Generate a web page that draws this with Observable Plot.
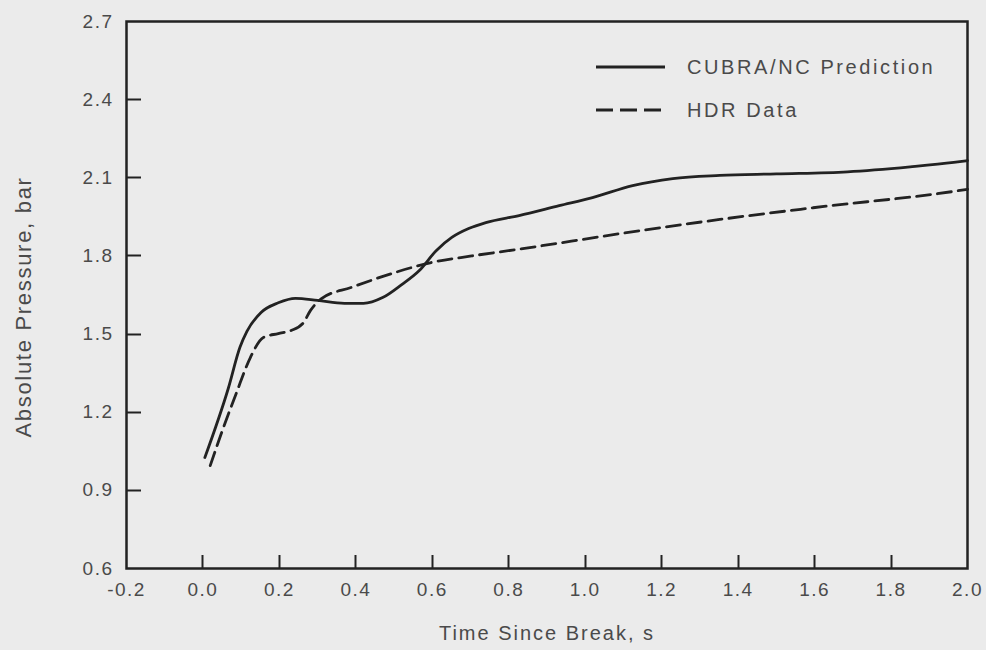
<!DOCTYPE html>
<html>
<head>
<meta charset="utf-8">
<script src="https://cdn.jsdelivr.net/npm/d3@7"></script>
<script src="https://cdn.jsdelivr.net/npm/@observablehq/plot@0.6"></script>
<style>
  body { margin: 0; background: #ebebeb; }
  #wrap { position: relative; width: 986px; height: 650px; background: #ebebeb; }
  #wrap svg { font-family: "Liberation Sans", Arial, sans-serif; }
  g[aria-label="x-axis tick label"] text, g[aria-label="y-axis tick label"] text { letter-spacing: 1.5px; }
  #overlay { position: absolute; left: 0; top: 0; pointer-events: none; }
  #overlay text { letter-spacing: 2.6px; }
</style>
</head>
<body>
<div id="wrap"></div>
<script>
// ---- data ----
const xTicks = [-0.2, 0.0, 0.2, 0.4, 0.6, 0.8, 1.0, 1.2, 1.4, 1.6, 1.8, 2.0];
const xTickLabels = ["-0.2", "0.0", "0.2", "0.4", "0.6", "0.8", "1.0", "1.2", "1.4", "1.6", "1.8", "2.0"];
const yTicks = [0.6, 0.9, 1.2, 1.5, 1.8, 2.1, 2.4, 2.7];
const yTickLabels = ["0.6", "0.9", "1.2", "1.5", "1.8", "2.1", "2.4", "2.7"];

const xTitle = "Time Since Break, s";
const yTitle = "Absolute Pressure, bar";
const seriesNames = ["CUBRA/NC Prediction", "HDR Data"];

// CUBRA/NC Prediction (solid)
const predTime = [0.005, 0.066, 0.097, 0.115, 0.152, 0.197, 0.242, 0.30, 0.37, 0.42, 0.47, 0.52, 0.566, 0.61, 0.651, 0.695, 0.74, 0.827, 0.932, 1.019, 1.124, 1.229, 1.352, 1.50, 1.686, 1.85, 1.964, 2.0];
const predPressure = [1.026, 1.29, 1.45, 1.51, 1.583, 1.62, 1.637, 1.629, 1.618, 1.618, 1.64, 1.69, 1.744, 1.82, 1.871, 1.905, 1.928, 1.955, 1.993, 2.024, 2.07, 2.097, 2.109, 2.115, 2.123, 2.142, 2.159, 2.166];

// HDR Data (dashed)
const hdrTime = [0.019, 0.048, 0.087, 0.124, 0.158, 0.197, 0.231, 0.263, 0.281, 0.31, 0.388, 0.493, 0.598, 0.703, 0.827, 1.089, 1.352, 1.596, 1.974, 2.0];
const hdrPressure = [0.995, 1.118, 1.272, 1.41, 1.487, 1.502, 1.514, 1.544, 1.59, 1.636, 1.679, 1.732, 1.775, 1.80, 1.826, 1.885, 1.94, 1.985, 2.05, 2.056];

// ---- build ----
const pred = predTime.map((t, i) => ({t, p: predPressure[i]}));
const hdr = hdrTime.map((t, i) => ({t, p: hdrPressure[i]}));

const ink = "#222222";
const textInk = "#4a4a4a";

const W = 986, H = 650, mL = 126, mR = 19, mT = 21, mB = 82;
const xTickLen = 13, yTickLen = 15;

const chart = Plot.plot({
  width: W,
  height: H,
  marginLeft: mL,
  marginRight: mR,
  marginTop: mT,
  marginBottom: mB,
  style: {background: "transparent", fontFamily: "Liberation Sans, Arial, sans-serif", color: textInk, overflow: "visible"},
  x: {domain: [xTicks[0], xTicks[xTicks.length - 1]]},
  y: {domain: [yTicks[0], yTicks[yTicks.length - 1]]},
  marks: [
    // tick labels (outside the frame)
    Plot.axisX(xTicks, {
      tickSize: 0, tickPadding: 14, fontSize: 19, fill: textInk,
      tickFormat: d => xTickLabels[xTicks.indexOf(d)], label: null
    }),
    Plot.axisY(yTicks, {
      tickSize: 0, tickPadding: 13, fontSize: 19, fill: textInk,
      tickFormat: d => yTickLabels[yTicks.indexOf(d)], label: null
    }),
    // axis titles
    Plot.text([xTitle], {frameAnchor: "bottom", dy: 71, fontSize: 20, fill: textInk, textAnchor: "middle"}),
    Plot.text([yTitle], {frameAnchor: "left", dx: -103, dy: 12, rotate: -90, fontSize: 22, fill: textInk, textAnchor: "middle"}),
    // frame
    Plot.frame({stroke: ink, strokeWidth: 2.5}),
    // series
    Plot.line(hdr, {x: "t", y: "p", stroke: ink, strokeWidth: 2.8, strokeDasharray: "14,7", curve: "monotone-x"}),
    Plot.line(pred, {x: "t", y: "p", stroke: ink, strokeWidth: 2.8, curve: "monotone-x"})
  ]
});

const wrap = document.getElementById("wrap");
wrap.appendChild(chart);

// letter spacing of the titles
chart.querySelectorAll("text").forEach(t => {
  if (t.textContent === xTitle) t.style.letterSpacing = "2px";
  if (t.textContent === yTitle) t.style.letterSpacing = "1.7px";
});

// overlay: inward ticks (positioned through Plot's own scales) and the legend
const xs = chart.scale("x"), ys = chart.scale("y");
const bottomY = ys.apply(yTicks[0]);
const leftX = xs.apply(xTicks[0]);
const ns = "http://www.w3.org/2000/svg";
const ov = document.createElementNS(ns, "svg");
ov.setAttribute("id", "overlay");
ov.setAttribute("width", W);
ov.setAttribute("height", H);
function addLine(x1, y1, x2, y2, sw, dash) {
  const ln = document.createElementNS(ns, "line");
  ln.setAttribute("x1", x1); ln.setAttribute("x2", x2);
  ln.setAttribute("y1", y1); ln.setAttribute("y2", y2);
  ln.setAttribute("stroke", ink); ln.setAttribute("stroke-width", sw);
  if (dash) ln.setAttribute("stroke-dasharray", dash);
  ov.appendChild(ln);
}
xTicks.slice(1, -1).forEach(v => {
  const px = Math.round(xs.apply(v)) + 0.5;
  addLine(px, bottomY, px, bottomY - xTickLen, 2);
});
yTicks.slice(1, -1).forEach(v => {
  const py = Math.round(ys.apply(v)) + 0.5;
  addLine(leftX, py, leftX + yTickLen, py, 2);
});

const styles = [null, "17,7"];
seriesNames.forEach((name, i) => {
  const yy = 67 + i * 43;
  addLine(596, yy, 665, yy, 3.2, styles[i]);
  const tx = document.createElementNS(ns, "text");
  tx.setAttribute("x", 687); tx.setAttribute("y", yy);
  tx.setAttribute("dy", "0.35em");
  tx.setAttribute("font-size", 20);
  tx.setAttribute("font-family", "Liberation Sans, Arial, sans-serif");
  tx.setAttribute("fill", textInk);
  tx.textContent = name;
  ov.appendChild(tx);
});
wrap.appendChild(ov);
</script>
</body>
</html>
